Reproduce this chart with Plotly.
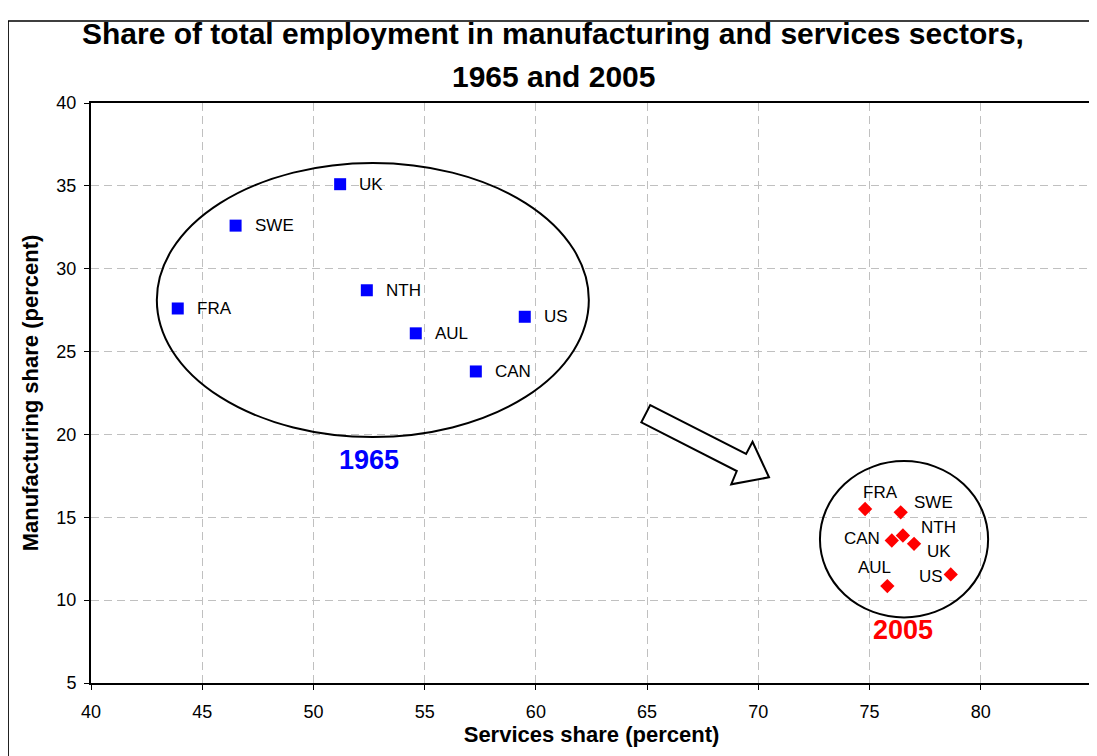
import plotly.graph_objects as go

countries_1965 = ["UK", "SWE", "FRA", "NTH", "AUL", "US", "CAN"]
services_1965 = [51.2, 46.5, 43.9, 52.4, 54.6, 59.5, 57.3]
manuf_1965 = [35.1, 32.6, 27.6, 28.7, 26.1, 27.1, 23.8]

countries_2005 = ["FRA", "SWE", "CAN", "NTH", "UK", "US", "AUL"]
services_2005 = [74.8, 76.4, 76.0, 76.5, 77.0, 78.65, 75.8]
manuf_2005 = [15.5, 15.3, 13.6, 13.9, 13.4, 11.55, 10.85]

x_ticks = [40, 45, 50, 55, 60, 65, 70, 75, 80, 85]
y_ticks = [5, 10, 15, 20, 25, 30, 35, 40]

# label offsets (pixels) for the 2005 cluster
offsets_2005 = {"FRA": (15, 17), "SWE": (33, 10), "CAN": (-30, 2), "NTH": (36, 8),
                "UK": (25, -8), "US": (-20, -2), "AUL": (-13, 19)}

FONT = "Liberation Sans, Arial, sans-serif"

fig = go.Figure()
fig.add_trace(go.Scatter(x=services_1965, y=manuf_1965, mode="markers",
                         marker=dict(symbol="square", size=12, color="#0000FF"),
                         showlegend=False, hoverinfo="skip"))
fig.add_trace(go.Scatter(x=services_2005, y=manuf_2005, mode="markers",
                         marker=dict(symbol="diamond", size=11, color="#FF0000"),
                         showlegend=False, hoverinfo="skip"))

annotations = []
for c, x, y in zip(countries_1965, services_1965, manuf_1965):
    annotations.append(dict(x=x, y=y, text=c, showarrow=False, xanchor="left",
                            xshift=17, font=dict(family=FONT, size=17, color="black")))
for c, x, y in zip(countries_2005, services_2005, manuf_2005):
    dx, dy = offsets_2005[c]
    annotations.append(dict(x=x, y=y, text=c, showarrow=False, xanchor="center",
                            xshift=dx, yshift=dy, font=dict(family=FONT, size=17, color="black")))
annotations.append(dict(x=52.5, y=18.45, text="<b>1965</b>", showarrow=False,
                        font=dict(family=FONT, size=27, color="#0000FF")))
annotations.append(dict(x=76.5, y=8.2, text="<b>2005</b>", showarrow=False,
                        font=dict(family=FONT, size=27, color="#FF0000")))
# title lines
annotations.append(dict(xref="paper", yref="paper", x=0.4616, y=1.119, xanchor="center", yanchor="middle",
                        text="<b>Share of total employment in manufacturing and services sectors,</b>",
                        showarrow=False, font=dict(family=FONT, size=30, color="black")))
annotations.append(dict(xref="paper", yref="paper", x=0.4616, y=1.045, xanchor="center", yanchor="middle",
                        text="<b>1965 and 2005</b>",
                        showarrow=False, font=dict(family=FONT, size=30, color="black")))

shapes = [
    dict(type="circle", xref="x", yref="y", x0=42.96, x1=62.38, y0=19.84, y1=36.38,
         line=dict(color="black", width=2)),
    dict(type="circle", xref="x", yref="y", x0=72.77, x1=80.33, y0=8.96, y1=18.39,
         line=dict(color="black", width=2)),
    dict(type="path", xref="x", yref="y",
         path="M 65.14 21.77 L 69.45 18.82 L 69.74 19.56 L 70.48 17.41 L 68.78 16.99 L 69.03 17.79 L 64.74 20.73 Z",
         line=dict(color="black", width=2), fillcolor="white"),
    dict(type="path", xref="paper", yref="paper",
         path="M -0.0828 -0.3 L -0.0828 1.1414 L 1.02 1.1414",
         line=dict(color="black", width=1.5)),
]

axis_common = dict(showgrid=True, gridcolor="#C0C0C0", griddash="8px,5px", gridwidth=1,
                   showline=True, linecolor="black", linewidth=2, mirror=True,
                   ticks="outside", ticklen=5, tickcolor="black", zeroline=False,
                   tickfont=dict(family=FONT, size=18, color="black"))

fig.update_layout(
    width=1089, height=748, autosize=False,
    margin=dict(l=83, r=3, t=95, b=73),
    paper_bgcolor="white", plot_bgcolor="white",
    xaxis=dict(range=[40, 85], tickvals=x_ticks, ticktext=[str(v) for v in x_ticks],
               ticklabelstandoff=6,
               title=dict(text="<b>Services share (percent)</b>", standoff=6,
                          font=dict(family=FONT, size=22, color="black")),
               **axis_common),
    yaxis=dict(range=[5, 40], tickvals=y_ticks, ticktext=[str(v) for v in y_ticks],
               ticklabelstandoff=4,
               title=dict(text="<b>Manufacturing share (percent)</b>", standoff=12,
                          font=dict(family=FONT, size=22, color="black")),
               **axis_common),
    annotations=annotations,
    shapes=shapes,
)

fig.write_html("out.html")
